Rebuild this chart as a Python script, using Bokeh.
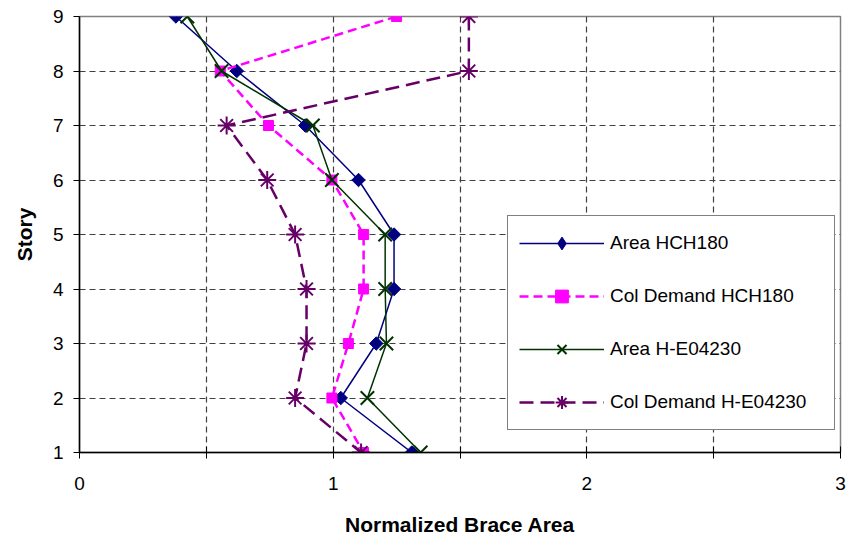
import math
from bokeh.plotting import figure
from bokeh.models import FixedTicker, Legend
from bokeh.embed import file_html
from bokeh.resources import INLINE

# Story levels and normalized brace area per series
stories = [9, 8, 7, 6, 5, 4, 3, 2, 1]
area_hch180 = [0.38, 0.62, 0.89, 1.10, 1.24, 1.24, 1.17, 1.03, 1.31]
col_demand_hch180 = [1.25, 0.555, 0.745, 0.995, 1.12, 1.12, 1.06, 0.995, 1.12]
area_he04230 = [0.425, 0.56, 0.92, 0.995, 1.205, 1.205, 1.21, 1.135, 1.345]
col_demand_he04230 = [1.535, 1.535, 0.58, 0.74, 0.85, 0.895, 0.895, 0.85, 1.11]

x_ticks = [0, 1, 2, 3]
x_minor = [0.5, 1.5, 2.5]
y_ticks = [1, 2, 3, 4, 5, 6, 7, 8, 9]

FONT = "Liberation Sans"

p = figure(
    frame_width=761, frame_height=436,
    x_range=(0, 3), y_range=(1, 9),
    output_backend="svg", toolbar_location=None,
    min_border_left=79, min_border_right=13,
    min_border_top=16, min_border_bottom=88,
    background_fill_color="white", border_fill_color="white",
)
p.outline_line_color = "#808080"
p.outline_line_width = 1.5

# axes
p.xaxis.ticker = FixedTicker(ticks=x_ticks, minor_ticks=x_minor)
p.yaxis.ticker = FixedTicker(ticks=y_ticks, minor_ticks=[])
for ax in (p.xaxis, p.yaxis):
    ax.axis_line_color = "black"
    ax.axis_line_width = 1.5
    ax.major_tick_line_color = "black"
    ax.minor_tick_line_color = "black"
    ax.major_tick_out = 6
    ax.minor_tick_out = 6
    ax.major_label_text_font = FONT
    ax.major_label_text_font_size = "19px"
    ax.major_label_text_color = "black"
    ax.axis_label_text_font = FONT
    ax.axis_label_text_font_size = "21px"
    ax.axis_label_text_font_style = "bold"
    ax.axis_label_text_color = "black"
p.xaxis.major_tick_in = 6
p.xaxis.minor_tick_in = 6
p.yaxis.major_tick_in = 0
p.yaxis.minor_tick_in = 0
p.xaxis.major_label_standoff = 18
p.yaxis.major_label_standoff = 10
p.xaxis.axis_label = "Normalized Brace Area"
p.yaxis.axis_label = "Story"
p.xaxis.axis_label_standoff = 20
p.yaxis.axis_label_standoff = 14

# dashed gridlines
p.xgrid.ticker = FixedTicker(ticks=[0.5, 1, 1.5, 2, 2.5])
p.ygrid.ticker = FixedTicker(ticks=[2, 3, 4, 5, 6, 7, 8])
for g in (p.xgrid, p.ygrid):
    g.grid_line_color = "#404040"
    g.grid_line_width = 1.2
    g.grid_line_dash = "6 4"

NAVY, MAGENTA, GREEN, PURPLE = "#000080", "#FF00FF", "#003300", "#660066"
items = []

# Area HCH180: solid navy line with wide diamonds (squares turned 45 degrees)
r1 = p.line(area_hch180, stories, line_color=NAVY, line_width=1.5)
p.scatter(area_hch180, stories, marker="square", size=9.5, angle=math.pi / 4,
          fill_color=NAVY, line_color=NAVY)
k1 = p.scatter([float("nan")], [float("nan")], marker="diamond",
               fill_color=NAVY, line_color=NAVY)
items.append(("Area HCH180", [r1, k1]))

r2 = p.line(col_demand_hch180, stories, line_color=MAGENTA, line_width=2.5,
            line_dash="9 5")
m2 = p.scatter(col_demand_hch180, stories, marker="square", size=10,
               fill_color=MAGENTA, line_color=MAGENTA)
items.append(("Col Demand HCH180", [r2, m2]))

r3 = p.line(area_he04230, stories, line_color=GREEN, line_width=1.5)
m3 = p.scatter(area_he04230, stories, marker="x", size=19,
               line_color=GREEN, line_width=2)
items.append(("Area H-E04230", [r3, m3]))

r4 = p.line(col_demand_he04230, stories, line_color=PURPLE, line_width=2.5,
            line_dash="14 7")
m4 = p.scatter(col_demand_he04230, stories, marker="asterisk", size=18,
               line_color=PURPLE, line_width=2)
items.append(("Col Demand H-E04230", [r4, m4]))

legend = Legend(
    items=items,
    location=(428, 22),
    glyph_width=85, glyph_height=32,
    label_height=32, label_width=213,
    label_standoff=6, spacing=21, padding=11, margin=0,
    label_text_font=FONT, label_text_font_size="19px",
    label_text_color="black",
    border_line_color="black", border_line_width=1,
    background_fill_color="white", background_fill_alpha=1.0,
)
p.add_layout(legend, "center")

open("out.html", "w").write(file_html(p, INLINE))
